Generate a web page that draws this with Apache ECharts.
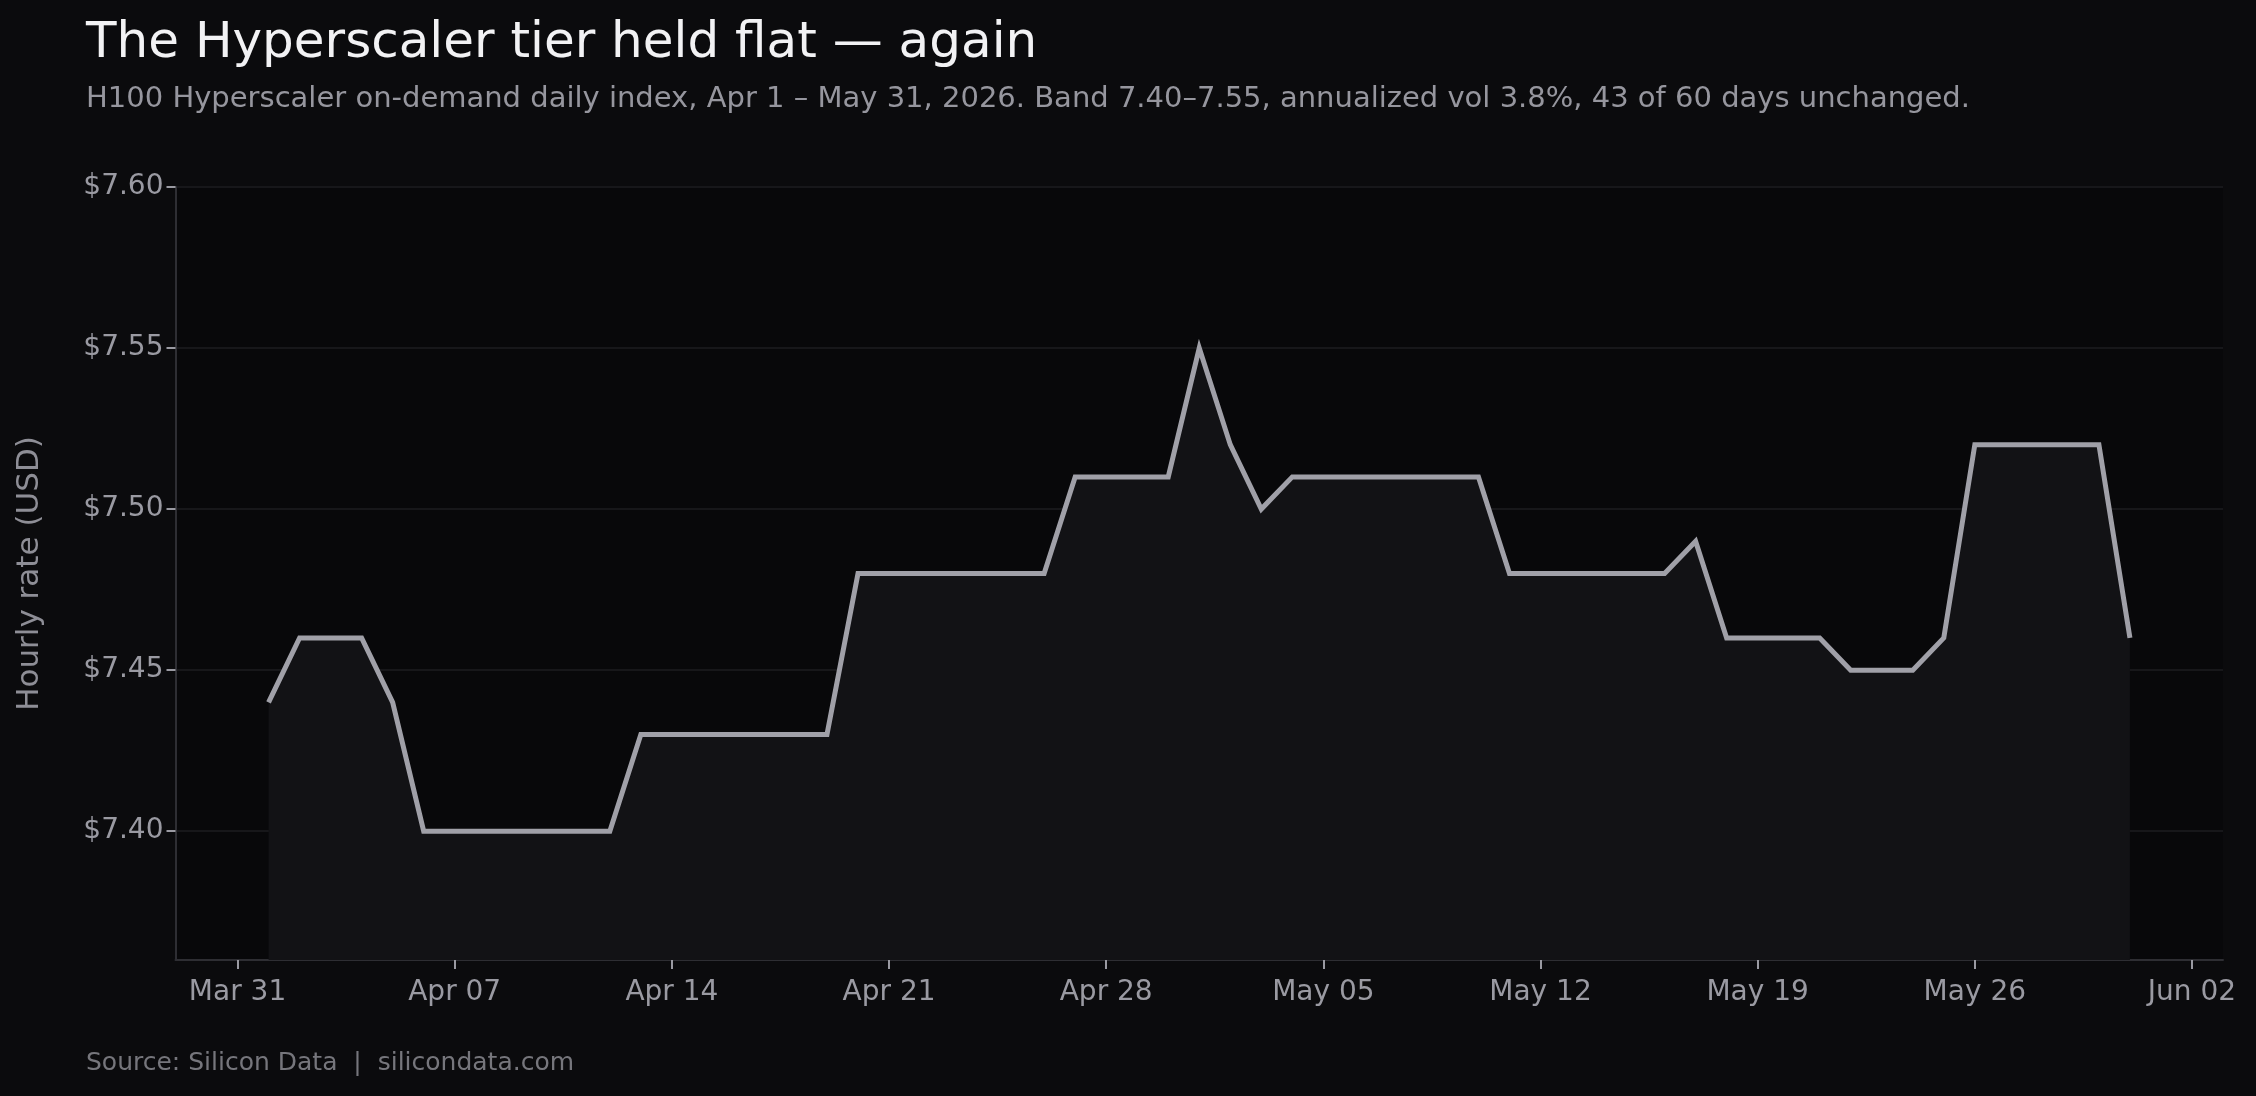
<!DOCTYPE html>
<html>
<head>
<meta charset="utf-8">
<script src="https://cdn.jsdelivr.net/npm/echarts@6/dist/echarts.min.js"></script>
<style>
  html, body { margin: 0; padding: 0; background: #0b0b0d; }
  #chart { width: 2256px; height: 1096px; }
</style>
</head>
<body>
<div id="chart"></div>
<script>
// ---- data ----
const startDate = [2026, 4, 1]; // Apr 1, 2026 (first data day)
const values = [
  7.44, 7.46, 7.46, 7.46, 7.44,                 // Apr 1-5
  7.40, 7.40, 7.40, 7.40, 7.40, 7.40, 7.40,     // Apr 6-12
  7.43, 7.43, 7.43, 7.43, 7.43, 7.43, 7.43,     // Apr 13-19
  7.48, 7.48, 7.48, 7.48, 7.48, 7.48, 7.48,     // Apr 20-26
  7.51, 7.51, 7.51, 7.51,                       // Apr 27-30
  7.55, 7.52, 7.50,                             // May 1-3
  7.51, 7.51, 7.51, 7.51, 7.51, 7.51, 7.51,     // May 4-10
  7.48, 7.48, 7.48, 7.48, 7.48, 7.48,           // May 11-16
  7.49,                                         // May 17
  7.46, 7.46, 7.46, 7.46,                       // May 18-21
  7.45, 7.45, 7.45,                             // May 22-24
  7.46,                                         // May 25
  7.52, 7.52, 7.52, 7.52, 7.52,                 // May 26-30
  7.46                                          // May 31
];
const yTicks = [7.40, 7.45, 7.50, 7.55, 7.60];
const xTickDates = ['2026-03-31','2026-04-07','2026-04-14','2026-04-21','2026-04-28',
                    '2026-05-05','2026-05-12','2026-05-19','2026-05-26','2026-06-02'];
const xRange = ['2026-03-29', '2026-06-03'];
const yRange = [7.36, 7.60];
const monthNames = ['Jan','Feb','Mar','Apr','May','Jun','Jul','Aug','Sep','Oct','Nov','Dec'];

const titleText = 'The Hyperscaler tier held flat — again';
const subtitleText = 'H100 Hyperscaler on-demand daily index, Apr 1 – May 31, 2026. Band 7.40–7.55, annualized vol 3.8%, 43 of 60 days unchanged.';
const footerText = 'Source: Silicon Data  |  silicondata.com';
const yAxisName = 'Hourly rate (USD)';

// ---- build ----
function parseDay(s) {
  const p = s.split('-').map(Number);
  return Date.UTC(p[0], p[1] - 1, p[2]);
}
const seriesData = values.map((v, i) => {
  return [Date.UTC(startDate[0], startDate[1] - 1, startDate[2] + i), v];
});

const FONT = '"DejaVu Sans", sans-serif';
const chart = echarts.init(document.getElementById('chart'), null, { renderer: 'canvas' });
chart.setOption({
  backgroundColor: '#0b0b0d',
  animation: false,
  textStyle: { fontFamily: FONT },
  graphic: [
    { type: 'text', left: 86, top: 19, style: { text: titleText, font: '50px ' + FONT, fill: '#f2f2f4' } },
    { type: 'text', left: 86, top: 85, style: { text: subtitleText, font: '29px ' + FONT, fill: '#96969e' } },
    { type: 'text', left: 86, top: 1051, style: { text: footerText, font: '25px ' + FONT, fill: '#76767c' } }
  ],
  grid: {
    left: 175.5, right: 33, top: 187, bottom: 136,
    show: true, backgroundColor: '#08080a', borderWidth: 0
  },
  xAxis: {
    type: 'value',
    min: parseDay(xRange[0]),
    max: parseDay(xRange[1]),
    axisLine: { show: true, lineStyle: { color: '#2e2e33', width: 2 } },
    axisTick: { show: true, length: 9, lineStyle: { color: '#9a9aa2', width: 2 },
      customValues: xTickDates.map(parseDay) },
    axisLabel: {
      customValues: xTickDates.map(parseDay),
      color: '#9a9aa2', fontSize: 28, fontFamily: FONT, margin: 19,
      formatter: function (v) {
        const d = new Date(v);
        return monthNames[d.getUTCMonth()] + ' ' + String(d.getUTCDate()).padStart(2, '0');
      }
    },
    splitLine: { show: false }
  },
  yAxis: {
    type: 'value',
    min: yRange[0], max: yRange[1],
    name: yAxisName,
    nameLocation: 'middle',
    nameGap: 130,
    nameTextStyle: { color: '#8e8e96', fontSize: 31, fontFamily: FONT },
    axisLine: { show: true, lineStyle: { color: '#2e2e33', width: 2 } },
    axisTick: { show: true, length: 9, lineStyle: { color: '#9a9aa2', width: 2 }, customValues: yTicks },
    axisLabel: {
      customValues: yTicks,
      color: '#9a9aa2', fontSize: 28, fontFamily: FONT, margin: 12,
      formatter: v => '$' + v.toFixed(2)
    },
    splitLine: { show: true, lineStyle: { color: '#17171a', width: 2 } }
  },
  series: [{
    type: 'line',
    data: seriesData,
    showSymbol: false,
    symbol: 'none',
    lineStyle: { color: '#a0a0a8', width: 5, join: 'miter' },
    areaStyle: { color: '#121215', opacity: 1, origin: 'start' },
    z: 3
  }]
});
</script>
</body>
</html>
